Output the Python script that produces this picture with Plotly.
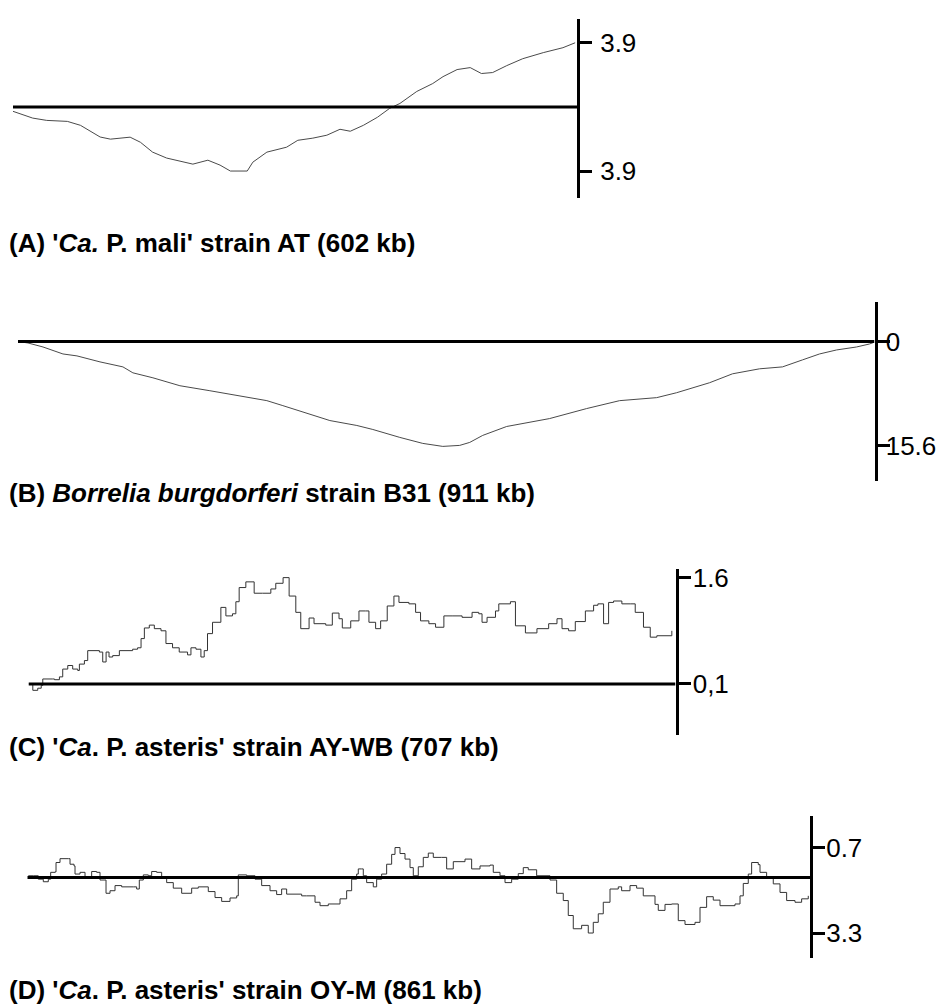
import plotly.graph_objects as go

# ---------------- data ----------------
# (A) 'Ca. P. mali' strain AT, 602 kb
a_kb = [0, 21, 36, 58, 72, 93, 104, 125, 136, 149, 164, 192, 208, 221, 232, 250, 256, 271, 292, 304,
        320, 335, 349, 360, 374, 389, 402, 413, 431, 448, 459, 474, 488, 500, 512, 527, 544, 566, 587, 600]
a_skew = [-0.27, -0.68, -0.82, -0.88, -1.12, -1.83, -1.96, -1.84, -2.15, -2.75, -3.11, -3.48, -3.24, -3.54,
          -3.9, -3.9, -3.36, -2.75, -2.45, -2.03, -1.90, -1.72, -1.36, -1.48, -1.12, -0.63, -0.09, 0.21,
          0.94, 1.42, 1.84, 2.27, 2.39, 2.03, 2.09, 2.51, 2.93, 3.3, 3.6, 3.9]
a_ticks = [3.9, -3.9]
a_ticklabels = ["3.9", "3.9"]

# (B) Borrelia burgdorferi strain B31, 911 kb
b_kb = [0, 10.6, 26.6, 47.8, 62.7, 87.2, 111.6, 122.2, 143.5, 172.2, 204.1, 228.5, 243.4, 264.7, 281.7,
        307.2, 331.7, 360.4, 377.4, 406.1, 430.5, 451.8, 469.8, 480.5, 494.3, 519.8, 565.5, 604.8, 639.9,
        679.3, 700.5, 735.6, 760.0, 788.7, 813.2, 834.4, 852.5, 870.6, 891.9, 905.7, 909.9]
b_skew = [0, -0.22, -0.82, -1.87, -2.16, -3.06, -3.81, -4.70, -5.45, -6.64, -7.39, -7.99, -8.43, -8.88,
          -9.63, -10.82, -11.87, -12.61, -13.21, -14.40, -15.30, -15.75, -15.60, -15.15, -14.10, -12.76,
          -11.57, -10.07, -8.88, -8.43, -7.69, -6.19, -4.85, -4.10, -3.81, -2.76, -1.87, -1.27, -0.82,
          -0.37, -0.15]
b_ticks = [0, -15.6]
b_ticklabels = ["0", "15.6"]

# (C) 'Ca. P. asteris' strain AY-WB, 707 kb
c_kb = [0.3, 4.7, 10.1, 13.9, 15.6, 26.5, 28.4, 33.8, 37.4, 42.9, 48.3, 53.8, 55.6, 61.1, 64.7, 77.5, 81.1,
        84.8, 88.0, 92.0, 99.3, 113.8, 119.2, 123.0, 126.6, 132.0, 137.5, 144.8, 150.2, 157.4, 164.7, 173.8,
        177.5, 183.0, 188.4, 192.0, 195.6, 201.1, 210.2, 215.7, 222.9, 226.6, 230.2, 237.5, 246.6, 255.6,
        264.8, 270.2, 278.2, 284.8, 292.1, 297.5, 306.6, 312.0, 324.8, 332.0, 339.3, 342.9, 352.1, 361.1,
        368.4, 372.0, 379.3, 384.8, 392.0, 399.3, 404.8, 415.7, 423.0, 428.4, 437.5, 444.8, 453.9, 462.9,
        473.8, 484.7, 492.0, 495.6, 501.1, 510.3, 513.9, 526.6, 532.1, 543.0, 555.6, 568.4, 577.5, 583.0,
        590.2, 597.5, 608.5, 617.5, 622.2, 628.4, 633.9, 639.3, 648.4, 657.5, 663.0, 672.0, 679.4, 686.6,
        703.0]
c_skew = [0.10, 0.01, 0.04, 0.08, 0.17, 0.17, 0.16, 0.20, 0.31, 0.36, 0.31, 0.29, 0.38, 0.43, 0.57, 0.55,
          0.41, 0.55, 0.48, 0.50, 0.57, 0.59, 0.61, 0.74, 0.89, 0.93, 0.88, 0.85, 0.67, 0.61, 0.55, 0.51,
          0.61, 0.59, 0.48, 0.57, 0.81, 0.97, 1.18, 1.06, 1.09, 1.26, 1.46, 1.54, 1.38, 1.38, 1.44, 1.52,
          1.60, 1.34, 1.11, 0.88, 1.03, 0.95, 0.93, 1.10, 1.02, 0.89, 0.99, 1.13, 1.13, 0.97, 0.88, 0.99,
          1.20, 1.34, 1.25, 1.23, 1.11, 0.99, 0.95, 0.90, 1.06, 1.06, 1.04, 1.11, 1.09, 0.97, 1.04, 1.13,
          1.23, 1.26, 0.92, 0.82, 0.88, 0.95, 1.02, 0.88, 0.85, 0.98, 1.13, 1.21, 1.23, 0.95, 1.25, 1.27,
          1.23, 1.23, 1.11, 0.90, 0.76, 0.78, 0.85]
c_baseline = 0.1
c_ticks = [1.6, 0.1]
c_ticklabels = ["1.6", "0,1"]

# (D) 'Ca. P. asteris' strain OY-M, 861 kb
d_kb = [1.1, 6.6, 12.1, 17.6, 23.1, 25.7, 30.5, 31.6, 36.0, 45.1, 47.0, 51.4, 52.5, 58.0, 63.5, 70.8, 76.3,
        80.0, 86.6, 91.0, 96.5, 103.8, 116.6, 120.3, 123.2, 127.6, 133.1, 136.8, 142.3, 147.8, 153.3, 160.6,
        169.8, 180.8, 188.1, 199.1, 206.5, 213.8, 223.0, 230.3, 232.1, 241.3, 250.5, 257.8, 267.0, 274.3,
        279.8, 285.3, 301.8, 307.3, 316.5, 322.0, 331.1, 344.0, 351.3, 356.8, 362.3, 364.1, 367.8, 369.6,
        373.3, 380.6, 384.3, 389.8, 395.3, 400.8, 404.5, 410.0, 415.5, 421.0, 424.6, 430.1, 435.6, 441.1,
        446.6, 455.8, 461.3, 468.6, 481.5, 488.8, 498.0, 509.0, 512.6, 520.0, 525.5, 532.8, 540.1, 545.6,
        551.1, 560.3, 575.0, 582.3, 589.6, 595.1, 600.6, 609.8, 617.1, 622.6, 628.1, 633.6, 641.0, 650.1,
        653.8, 663.0, 670.3, 677.6, 690.5, 694.1, 701.5, 708.8, 716.1, 723.5, 734.5, 740.0, 747.3, 754.6,
        762.0, 778.5, 784.0, 787.6, 793.1, 796.8, 804.1, 806.0, 813.3, 820.6, 828.0, 835.3, 844.5, 851.8,
        859.1]
d_skew = [0.04, 0.04, -0.04, -0.10, -0.04, 0.12, 0.13, 0.35, 0.44, 0.44, 0.31, 0.27, 0.08, 0.12, 0.00,
          0.14, 0.12, -0.06, -0.37, -0.31, -0.19, -0.22, -0.22, -0.27, -0.06, 0.06, 0.04, 0.14, 0.12, 0.00,
          -0.12, -0.25, -0.37, -0.25, -0.22, -0.33, -0.47, -0.56, -0.48, -0.43, 0.06, 0.04, -0.04, -0.19,
          -0.31, -0.40, -0.27, -0.39, -0.43, -0.43, -0.58, -0.66, -0.62, -0.50, -0.31, -0.04, 0.08, 0.20,
          0.20, 0.04, -0.12, -0.22, -0.04, 0.08, 0.31, 0.54, 0.70, 0.56, 0.43, 0.23, 0.04, 0.25, 0.47, 0.57,
          0.47, 0.47, 0.20, 0.37, 0.43, 0.20, 0.27, 0.29, 0.12, 0.04, -0.12, -0.04, 0.09, 0.23, 0.18, 0.04,
          -0.06, -0.37, -0.54, -0.89, -1.20, -1.12, -1.30, -1.05, -0.85, -0.58, -0.27, -0.22, -0.31, -0.19,
          -0.25, -0.43, -0.63, -0.77, -0.63, -0.62, -1.01, -1.10, -1.05, -0.70, -0.45, -0.53, -0.66, -0.62,
          -0.43, -0.14, 0.08, 0.35, 0.30, 0.12, 0.00, -0.15, -0.35, -0.54, -0.58, -0.50, -0.43]
d_ticks = [0.7, -1.3]
d_ticklabels = ["0.7", "3.3"]

genome_kb = [602, 911, 707, 861]
baselines = [0, 0, c_baseline, 0]
titles = [
    "<b>(A) '<i>Ca.</i> P. mali' strain AT (602 kb)</b>",
    "<b>(B) <i>Borrelia burgdorferi</i> strain B31 (911 kb)</b>",
    "<b>(C) '<i>Ca</i>. P. asteris' strain AY-WB (707 kb)</b>",
    "<b>(D) '<i>Ca</i>. P. asteris' strain OY-M (861 kb)</b>",
]

# ---------------- layout (pixel geometry) ----------------
W, H = 942, 1006
FONT = "Liberation Sans, Arial, Helvetica, sans-serif"
# x-left, x-right(axis), y-top, y-bottom of each panel's vertical axis line
panels_px = [
    (13, 577, 13, 193),
    (18, 874.5, 298, 478),
    (28.5, 675.5, 566, 733),
    (27.3, 810, 815, 958),
]
y_ranges = [(-5.53, 5.35), (-20.97, 5.9), (-0.615, 1.727), (-1.891, 1.435)]
title_y_px = [238, 490, 745, 990]
label_standoff = [3, -9, -3, -4]
line_shapes = ["linear", "linear", "hv", "hv"]
line_colors = ["#4a4a4a", "#4a4a4a", "#333333", "#333333"]

xs = [a_kb, b_kb, c_kb, d_kb]
ys = [a_skew, b_skew, c_skew, d_skew]
ticks = [a_ticks, b_ticks, c_ticks, d_ticks]
ticklabels = [a_ticklabels, b_ticklabels, c_ticklabels, d_ticklabels]

fig = go.Figure()
layout = dict(
    width=W, height=H, margin=dict(l=0, r=0, t=0, b=0),
    paper_bgcolor="white", plot_bgcolor="white", showlegend=False,
    font=dict(family=FONT, color="black"),
)
shapes = []
annotations = []
for i in range(4):
    n = "" if i == 0 else str(i + 1)
    xl, xr, yt, yb = panels_px[i]
    fig.add_trace(go.Scatter(
        x=xs[i], y=ys[i], mode="lines", xaxis="x" + n, yaxis="y" + n,
        line=dict(color=line_colors[i], width=1, shape=line_shapes[i]), hoverinfo="skip",
    ))
    layout["xaxis" + n] = dict(
        domain=[xl / W, xr / W], range=[0, genome_kb[i]], visible=False,
        anchor="y" + n, fixedrange=True,
    )
    layout["yaxis" + n] = dict(
        domain=[1 - yb / H, 1 - yt / H], range=list(y_ranges[i]), anchor="x" + n,
        side="right", showline=True, linecolor="black", linewidth=3,
        showgrid=False, zeroline=False, ticks="outside", ticklen=12, tickwidth=3,
        tickcolor="black", tickvals=ticks[i], ticktext=ticklabels[i],
        ticklabelstandoff=label_standoff[i],
        tickfont=dict(size=26, family=FONT, color="black"), fixedrange=True,
    )
    shapes.append(dict(
        type="line", xref="x" + n, yref="y" + n, x0=0, x1=genome_kb[i],
        y0=baselines[i], y1=baselines[i], line=dict(color="black", width=3), layer="above",
    ))
    annotations.append(dict(
        text=titles[i], xref="paper", yref="paper", x=7 / W, y=1 - title_y_px[i] / H,
        xanchor="left", yanchor="middle", showarrow=False,
        font=dict(size=26, family=FONT, color="black"),
    ))

layout["shapes"] = shapes
layout["annotations"] = annotations
fig.update_layout(**layout)

fig.write_html("out.html", config={"displayModeBar": False},
               post_script="document.body.style.margin='0';document.body.style.overflow='hidden';")
